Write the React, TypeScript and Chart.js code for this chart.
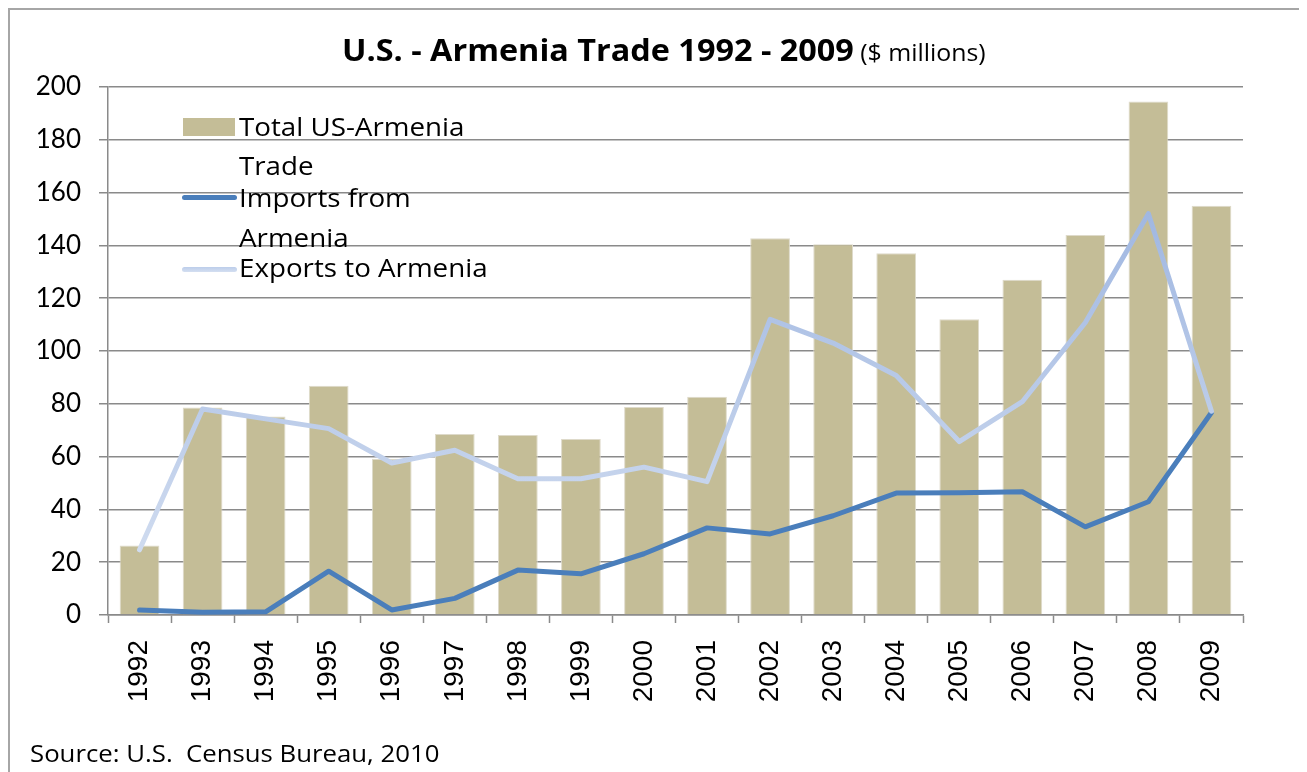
import React, { useEffect, useRef } from "react";
import { Chart, registerables } from "chart.js";

Chart.register(...registerables);

const years = ["1992","1993","1994","1995","1996","1997","1998","1999","2000","2001","2002","2003","2004","2005","2006","2007","2008","2009"];
const totalTrade = [26.3, 78.6, 75.2, 86.8, 59.2, 68.6, 68.2, 66.7, 78.8, 82.7, 142.7, 140.4, 137.0, 112.0, 127.0, 143.9, 194.5, 155.0];
const importsFromArmenia = [1.9, 1.0, 1.2, 16.6, 1.9, 6.3, 17.0, 15.6, 23.2, 33.0, 30.7, 37.6, 46.2, 46.3, 46.7, 33.4, 42.9, 76.7];
const exportsToArmenia = [24.7, 78.0, 74.3, 70.6, 57.6, 62.4, 51.6, 51.6, 56.0, 50.5, 112.0, 103.0, 90.7, 65.7, 80.8, 110.8, 152.0, 77.2];
const yTicks = [0, 20, 40, 60, 80, 100, 120, 140, 160, 180, 200];

const legendLabels = ["Total US-Armenia Trade", "Imports from Armenia", "Exports to Armenia"];

const BAR = "#C4BD97";
const IMP = "#4A7EBB";
const GRID = "#8A8A8A";
const LATO = "Lato, 'Open Sans', sans-serif";
const OPEN = "'Open Sans', Lato, sans-serif";

export default function App() {
  const ref = useRef<HTMLCanvasElement | null>(null);

  useEffect(() => {
    if (!ref.current) return;
    const expColor = (ctx: any) => {
      const chart = ctx.chart;
      const area = chart.chartArea;
      if (!area) return "#BFCFEA";
      const g = chart.ctx.createLinearGradient(0, area.bottom, 0, area.top);
      g.addColorStop(0, "#D8E2F2");
      g.addColorStop(1, "#8FAADC");
      return g;
    };
    const chart = new Chart(ref.current, {
      type: "bar",
      data: {
        labels: years,
        datasets: [
          {
            type: "line",
            label: legendLabels[2],
            data: exportsToArmenia,
            borderColor: expColor,
            borderWidth: 5,
            pointRadius: 0,
            tension: 0,
            borderCapStyle: "round",
            borderJoinStyle: "round",
            order: 1,
          } as any,
          {
            type: "line",
            label: legendLabels[1],
            data: importsFromArmenia,
            borderColor: IMP,
            borderWidth: 5,
            pointRadius: 0,
            tension: 0,
            borderCapStyle: "round",
            borderJoinStyle: "round",
            order: 2,
          } as any,
          {
            type: "bar",
            label: legendLabels[0],
            data: totalTrade,
            backgroundColor: BAR,
            borderColor: "#DEDACA",
            borderWidth: 1,
            barPercentage: 0.63,
            categoryPercentage: 1,
            order: 3,
          } as any,
        ],
      },
      options: {
        responsive: false,
        animation: false,
        layout: { padding: { left: 0, top: 79, right: 62, bottom: 57 } },
        plugins: {
          legend: { display: false },
          title: { display: false },
          tooltip: { enabled: false },
        },
        scales: {
          x: {
            grid: {
              display: true,
              drawOnChartArea: false,
              drawTicks: true,
              tickLength: 8,
              tickColor: GRID,
              tickWidth: 1.5,
              offset: true,
            },
            border: { display: true, color: GRID, width: 1.5 },
            ticks: {
              autoSkip: false,
              minRotation: 90,
              maxRotation: 90,
              padding: 17,
              color: "#000",
              font: { family: "'Liberation Sans Narrow', 'Liberation Sans', Arial, sans-serif", size: 28 },
            },
            afterFit: (s: any) => { s.height = 100; },
          },
          y: {
            min: 0,
            max: 200,
            afterBuildTicks: (s: any) => { s.ticks = yTicks.map((v) => ({ value: v })); },
            grid: {
              color: GRID,
              lineWidth: 1.5,
              drawTicks: true,
              tickLength: 9,
              tickColor: GRID,
            },
            border: { display: true, color: GRID, width: 1.5 },
            ticks: {
              padding: 18,
              color: "#000",
              font: { family: LATO, size: 26 },
            },
            afterFit: (s: any) => { s.width = 100; },
          },
        },
      },
    });
    return () => chart.destroy();
  }, []);

  const legendText: React.CSSProperties = {
    position: "absolute",
    left: 229,
    fontFamily: OPEN,
    fontSize: 26,
    lineHeight: "26px",
    color: "#000",
    whiteSpace: "nowrap",
    transform: "scaleX(1.067)",
    transformOrigin: "left center",
  };

  return (
    <div style={{ position: "relative", width: 1297, height: 764, boxSizing: "border-box", borderTop: "2px solid #A6A6A6", borderLeft: "2px solid #A6A6A6", borderRight: "2px solid #A6A6A6", background: "#fff" }}>
      <canvas ref={ref} width={1297} height={764} style={{ position: "absolute", left: -2, top: -2, width: 1297, height: 764 }} />
      <div style={{ position: "absolute", left: 332, top: 22, whiteSpace: "nowrap", fontFamily: OPEN, color: "#000", lineHeight: "36px", transform: "scaleX(1.08)", transformOrigin: "left center" }}>
        <span style={{ fontWeight: 700, fontSize: 30 }}>U.S. - Armenia Trade 1992 - 2009</span>
        <span style={{ fontSize: 23 }}> ($ millions)</span>
      </div>
      {/* legend */}
      <div style={{ position: "absolute", left: 173, top: 108, width: 52, height: 18, background: BAR }} />
      <div style={{ ...legendText, top: 103 }}>Total US-Armenia</div>
      <div style={{ ...legendText, top: 142 }}>Trade</div>
      <div style={{ position: "absolute", left: 172, top: 185, width: 55, height: 5, borderRadius: 3, background: IMP }} />
      <div style={{ ...legendText, top: 174 }}>Imports from</div>
      <div style={{ ...legendText, top: 214 }}>Armenia</div>
      <div style={{ position: "absolute", left: 172, top: 257, width: 55, height: 5, borderRadius: 3, background: "linear-gradient(#BCCDEA, #D4DFF1)" }} />
      <div style={{ ...legendText, top: 244 }}>Exports to Armenia</div>
      <div style={{ position: "absolute", left: 20, top: 729, fontFamily: OPEN, fontSize: 23, lineHeight: "28px", color: "#000", whiteSpace: "pre", transform: "scaleX(1.12)", transformOrigin: "left center" }}>Source: U.S.  Census Bureau, 2010</div>
    </div>
  );
}
